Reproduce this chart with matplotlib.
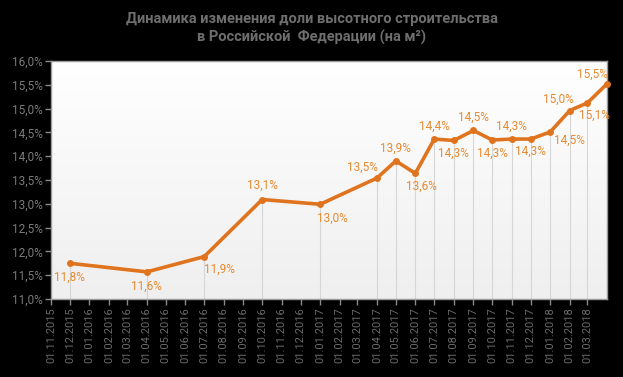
import numpy as np
import pandas as pd
import matplotlib
matplotlib.use("Agg")
import matplotlib.pyplot as plt
import matplotlib.dates as mdates
from matplotlib.colors import LinearSegmentedColormap

plt.rcParams['font.family'] = ['Roboto', 'DejaVu Sans']

# --- данные ---
dates = pd.to_datetime([
    "2015-12-01", "2016-04-01", "2016-07-01", "2016-10-01", "2017-01-01",
    "2017-04-01", "2017-05-01", "2017-06-01", "2017-07-01", "2017-08-01",
    "2017-09-01", "2017-10-01", "2017-11-01", "2017-12-01", "2018-01-01",
    "2018-02-01", "2018-03-01", "2018-04-01",
])
share = [11.75, 11.57, 11.89, 13.09, 12.99,
         13.54, 13.90, 13.64, 14.36, 14.33,
         14.54, 14.34, 14.36, 14.36, 14.51,
         14.96, 15.12, 15.52]
labels = ["11,8%", "11,6%", "11,9%", "13,1%", "13,0%",
          "13,5%", "13,9%", "13,6%", "14,4%", "14,3%",
          "14,5%", "14,3%", "14,3%", "14,3%", "14,5%",
          "15,0%", "15,1%", "15,5%"]
tick_dates = pd.date_range("2015-11-01", "2018-03-01", freq="MS")
y_ticks = [11.0, 11.5, 12.0, 12.5, 13.0, 13.5, 14.0, 14.5, 15.0, 15.5, 16.0]

# смещения подписей (пиксели)
offsets = [(0, -14), (0, -14), (15, -13), (0, 14), (12, -14),
           (-14, 11), (0, 13), (6, -13), (0, 13), (0, -13),
           (0, 13), (0, -13), (0, 13), (0, -12), (19, -8),
           (-11, 11), (7, -12), (-15, 10)]

line_color = "#E0741E"
label_color = "#E8892F"
gray = "#8a8a8a"

fig = plt.figure(figsize=(6.23, 3.77), dpi=100, facecolor="black")
ax = fig.add_axes([51 / 623, 78 / 377, 556 / 623, 238 / 377])

# градиентный фон
cmap = LinearSegmentedColormap.from_list("bg", ["#efefef", "#ffffff"])
grad = np.linspace(0, 1, 256).reshape(-1, 1)
ax.imshow(grad, extent=[0, 1, 0, 1], transform=ax.transAxes, aspect="auto",
          cmap=cmap, origin="lower", zorder=0)

# вертикальные линии к точкам
ax.vlines(dates, 11.0, share, color="#d6d6d6", lw=0.8, zorder=1)

ax.plot(dates, share, color=line_color, lw=2.6, marker="o", ms=5,
        markeredgewidth=0, zorder=3, clip_on=False)

for d, v, t, (dx, dy) in zip(dates, share, labels, offsets):
    ax.annotate(t, (d, v), xytext=(dx, dy), textcoords="offset pixels",
                ha="center", va="center", color=label_color, fontsize=8.5,
                zorder=4)

ax.set_xlim(pd.Timestamp("2015-11-01"), pd.Timestamp("2018-04-01"))
ax.set_ylim(11.0, 16.0)
ax.set_xticks(tick_dates)
ax.xaxis.set_major_formatter(mdates.DateFormatter("%d.%m.%Y"))
ax.set_yticks(y_ticks)
ax.set_yticklabels([f"{v:.1f}%".replace(".", ",") for v in y_ticks])
ax.tick_params(axis="x", rotation=90, colors=gray, labelsize=8, length=4,
               width=1, pad=2)
ax.tick_params(axis="y", colors=gray, labelsize=8.5, length=4, width=1, pad=2)
for lbl in ax.get_yticklabels():
    lbl.set_color("#7a7a7a")
for lbl in ax.get_xticklabels():
    lbl.set_color("#6a6a6a")
for s in ax.spines.values():
    s.set_color("#9a9a9a")
    s.set_linewidth(1)

fig.text(0.5, 0.925, "Динамика изменения доли высотного строительства\nв Российской  Федерации (на м²)",
         ha="center", va="center", color="#6e6e6e", fontsize=10.5,
         fontweight="bold", linespacing=1.3,
         family=["Liberation Sans Narrow", "Roboto", "DejaVu Sans"])

fig.savefig("out.png", dpi=100, facecolor="black")
